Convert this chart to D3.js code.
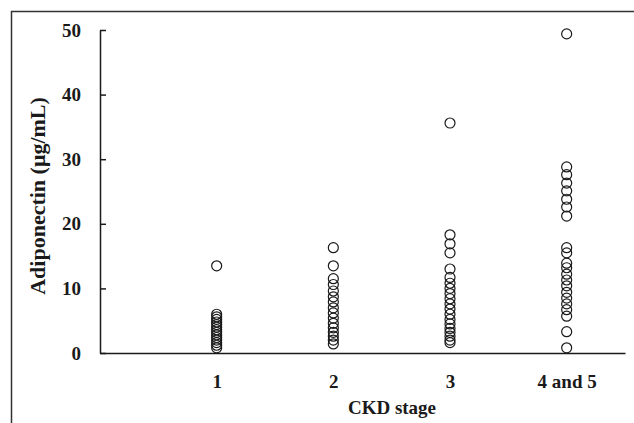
<!DOCTYPE html>
<meta charset="utf-8">
<style>
body { margin: 0; background: #fff; }
text { font-family: "Liberation Serif", "Times New Roman", serif; font-weight: bold; fill: #1a1a1a; }
.axis path, .axis line { stroke: #1a1a1a; stroke-width: 1.5; }
.dot { fill: none; stroke: #1a1a1a; stroke-width: 1.2; }
</style>
<body>
<script src="https://cdn.jsdelivr.net/npm/d3@7"></script>
<script>
// categories on the x axis
var stages = ["1", "2", "3", "4 and 5"];
var yTicks = [0, 10, 20, 30, 40, 50];

// adiponectin values (µg/mL) per CKD stage
var stage1 = [13.5, 6.0, 5.6, 5.2, 4.8, 4.4, 4.0, 3.6, 3.2, 2.8, 2.4, 2.0, 1.6, 1.2, 0.8];
var stage2 = [16.3, 13.5, 11.5, 10.6, 9.6, 8.7, 7.9, 7.0, 6.2, 5.4, 4.6, 3.9, 3.2, 2.6, 2.0, 1.4];
var stage3 = [35.6, 18.3, 16.9, 15.5, 13.0, 11.7, 10.8, 10.0, 9.2, 8.4, 7.6, 6.8, 6.0, 5.2, 4.5, 3.8, 3.2, 2.6, 2.0, 1.6];
var stage45 = [49.4, 28.8, 27.6, 26.3, 25.1, 23.8, 22.6, 21.2, 16.3, 15.5, 13.9, 13.2, 12.2, 11.3, 10.4, 9.4, 8.5, 7.6, 6.7, 5.7, 3.3, 0.8];

var groups = [stage1, stage2, stage3, stage45];

var svg = d3.select("body").append("svg")
    .attr("width", 634)
    .attr("height", 423);

// frame of the scanned figure (top and left only)
svg.append("path")
    .attr("d", "M11.5,423V11.5H634")
    .attr("fill", "none")
    .attr("stroke", "#333")
    .attr("stroke-width", 1.5);

var x = d3.scaleLinear().domain([0, 4.5]).range([100, 625]);
var y = d3.scaleLinear().domain([0, 50]).range([353, 30]);

svg.append("g")
    .attr("class", "axis")
    .attr("transform", "translate(100,0)")
    .call(d3.axisLeft(y).tickValues(yTicks).tickSizeInner(-6).tickSizeOuter(0).tickPadding(19))
    .selectAll("text").style("font-size", "19px");

svg.append("g")
    .attr("class", "axis")
    .attr("transform", "translate(0,353)")
    .call(d3.axisBottom(x).tickValues([1, 2, 3, 4]).tickFormat(function(d) { return stages[d - 1]; })
        .tickSize(0).tickPadding(22))
    .selectAll("text").style("font-size", "19px");

svg.selectAll(".axis text").attr("fill", "#1a1a1a");

svg.append("text")
    .attr("x", 392)
    .attr("y", 414)
    .attr("text-anchor", "middle")
    .style("font-size", "19px")
    .text("CKD stage");

svg.append("text")
    .attr("transform", "translate(45,196) rotate(-90)")
    .attr("text-anchor", "middle")
    .style("font-size", "22px")
    .text("Adiponectin (μg/mL)");

groups.forEach(function(vals, i) {
  svg.selectAll(".g" + i)
      .data(vals)
    .enter().append("circle")
      .attr("class", "dot g" + i)
      .attr("cx", x(i + 1))
      .attr("cy", function(d) { return y(d); })
      .attr("r", 5);
});
</script>
